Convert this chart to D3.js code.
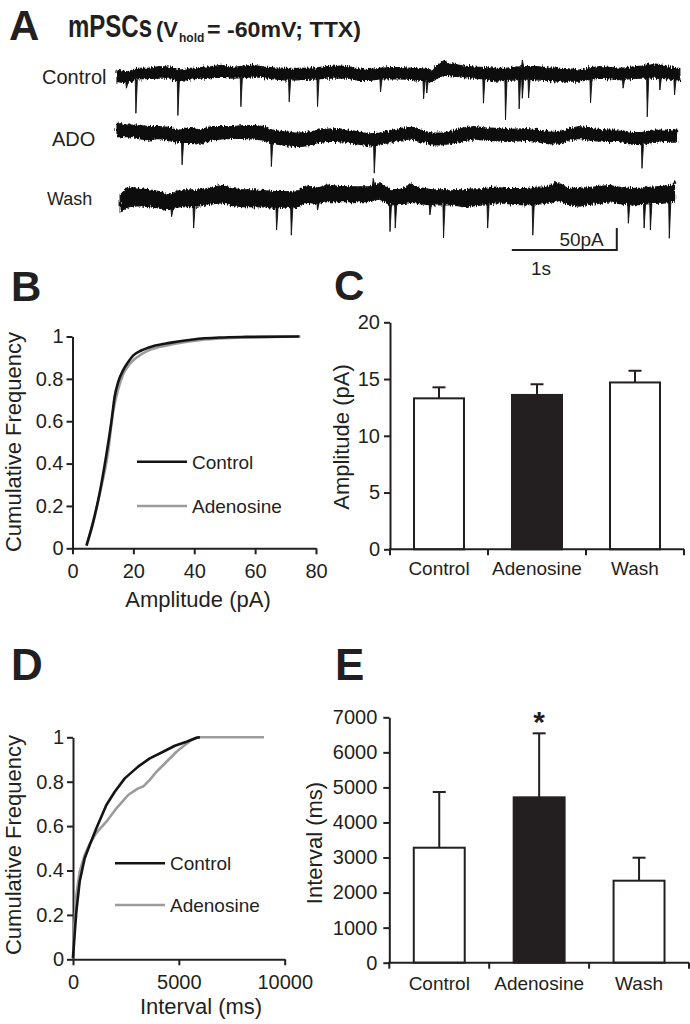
<!DOCTYPE html>
<html><head><meta charset="utf-8">
<script src="https://cdn.jsdelivr.net/npm/d3@7"></script>
<style>
body{margin:0;background:#fff}
svg{display:block}
text{font-family:"Liberation Sans",Arial,Helvetica,sans-serif;fill:#231f20}
</style>
</head><body>
<svg id="chart" width="690" height="1024">
<defs>
<filter id="rough" x="-2%" y="-60%" width="104%" height="220%">
<feTurbulence type="fractalNoise" baseFrequency="0.95 0.15" numOctaves="2" seed="7" result="n"/>
<feDisplacementMap in="SourceGraphic" in2="n" scale="6" xChannelSelector="R" yChannelSelector="G"/>
</filter>
</defs>
</svg>
<script>
// ===================== DATA =====================
// Panel A : mPSC traces (time in s, current in pA)
const traceNames = ["Control", "ADO", "Wash"];
const sampleTimes = [0,0.1,0.2,0.3,0.4,0.5,0.6,0.7,0.8,0.9,1.0,1.1,1.2,1.3,1.4,1.5,1.6,1.7,1.8,1.9,
  2.0,2.1,2.2,2.3,2.4,2.5,2.6,2.7,2.8,2.9,3.0,3.1,3.2,3.3,3.4,3.5,3.6,3.7,3.8,3.9,
  4.0,4.1,4.2,4.3,4.4,4.5,4.6,4.7,4.8,4.9,5.0,5.1,5.2,5.3];
const traceStart = [0, 0, 0.03];
const traceEnd = [5.36, 5.33, 5.31];
// upper / lower edge of the noise band
const ctrlTop = [11,7,15,15,19,18,11,15,17,19, 22,17,20,22,18,16,15,15,15,16, 19,20,19,14,12,15,17,17,15,14,
  11,32,25,20,18,17,15,15,18,19, 19,16,15,14,11,16,19,17,15,18, 20,26,22,17, 15];
const ctrlBottom = [-15,-18,-9,-8,-7,-7,-15,-9,-7,-6, -5,-7,-6,-4,-6,-9,-11,-11,-10,-9, -7,-7,-7,-12,-12,-9,-9,-9,-10,-12,
  -15,0,-2,-6,-7,-9,-14,-12,-11,-9, -11,-12,-14,-14,-14,-10,-7,-9,-11,-8, -7,-7,-8,-10, -11];
const adoTop = [24,20,20,17,17,15,9,13,9,17, 17,17,19,19,17,8,5,2,3,8, 11,12,9,5,0,2,7,13,15,8,
  2,2,7,14,17,14,13,10,11,12, 10,5,3,12,17,13,10,9,9,3, 3,9,9,9, 9];
const adoBottom = [-6,-6,-10,-14,-10,-15,-19,-19,-21,-14, -11,-10,-10,-11,-14,-22,-26,-29,-27,-20,
  -17,-17,-19,-23,-27,-25,-19,-14,-11,-18, -25,-25,-20,-15,-11,-14,-15,-17,-16,-14,
  -17,-22,-23,-14,-10,-14,-16,-17,-17,-23, -24,-19,-17,-16, -16];
const washTop = [2,19,18,14,10,3,14,14,14,19, 24,17,14,14,12,10,10,9,23,17, 25,22,21,21,21,30,14,15,25,18,
  14,14,14,14,16,17,20,17,17,17, 20,21,30,18,17,19,22,24,19,17, 18,20,22,25, 29];
const washBottom = [-36,-25,-22,-24,-27,-31,-24,-24,-22,-18, -15,-22,-24,-24,-25,-28,-25,-28,-14,-17,
  -13,-13,-13,-13,-13,-7,-20,-19,-14,-18, -20,-20,-20,-24,-22,-20,-15,-17,-19,-20,
  -18,-17,-9,-19,-23,-19,-16,-13,-18,-20, -19,-17,-16,-14, -11];
// miniature events: [time s, peak pA]
const ctrlEvents = [[0.09,-30],[0.18,-87],[0.58,-92],[1.18,-72],[1.64,-61],[1.91,-72],[2.51,-38],[2.92,-54],
  [2.95,-41],[3.49,-64],[3.70,-102],[3.83,-77],[3.86,-53],[3.86,34],[3.92,-52],[4.51,-63],[4.82,-30],
  [5.05,-95],[5.17,-34],[5.31,-45]];
const adoEvents = [[0.62,-70],[1.47,-74],[2.45,-89],[5.00,-78]];
const washEvents = [[0.52,-47],[0.73,-73],[1.52,-77],[1.66,-89],[1.91,-32],[2.44,40],[2.60,-81],[2.65,-73],
  [2.98,-43],[3.11,-95],[3.53,-73],[3.96,-89],[4.17,34],[4.87,-62],[5.02,-73],[5.08,-77],[5.26,-96],[5.31,35]];
const scaleBarTime = 1;      // s
const scaleBarCurrent = 50;  // pA

// Panel B : cumulative amplitude distribution
const ampControlX = [4.6,6.8,9.0,11.1,12.8,13.9,15.0,16.6,18.3,19.9,22.6,26.4,31.9,39.6,48.3,57,74.5];
const ampControlY = [0.013,0.126,0.267,0.44,0.60,0.72,0.785,0.84,0.88,0.91,0.934,0.954,0.97,0.986,0.995,0.998,1.0];
const ampAdenoX = [4.6,6.8,9.0,11.7,13.3,15.0,16.6,18.8,21.0,24.3,28.6,35.2,41.7,50.5,61.4,74.9];
const ampAdenoY = [0.013,0.12,0.26,0.455,0.64,0.75,0.82,0.87,0.90,0.93,0.95,0.97,0.983,0.992,0.997,1.0];
const ampXTicks = [0,20,40,60,80];
const freqTicks = [0,0.2,0.4,0.6,0.8,1];

// Panel C : amplitude bars
const conditions = ["Control","Adenosine","Wash"];
const ampMean = [13.3,13.6,14.7];
const ampErr = [0.97,0.94,1.03];
const ampYTicks = [0,5,10,15,20];

// Panel D : cumulative interval distribution
const intControlX = [0,40,110,158,315,552,789,1104,1577,1972,2445,3076,3628,4259,4811,5363,5836,5994];
const intControlY = [0.005,0.06,0.155,0.215,0.35,0.455,0.515,0.59,0.695,0.755,0.815,0.868,0.905,0.935,0.962,0.98,0.998,1.0];
const intAdenoX = [0,63,158,315,552,789,1104,1577,2050,2603,3076,3312,3628,3943,4416,4890,5284,5599,5915,9022];
const intAdenoY = [0.005,0.155,0.29,0.395,0.47,0.52,0.57,0.62,0.68,0.74,0.77,0.778,0.808,0.845,0.89,0.935,0.965,0.988,1.0,1.0];
const intXTicks = [0,5000,10000];

// Panel E : interval bars
const intMean = [3280,4717,2339];
const intErr = [1589,1826,656];
const intYTicks = [0,1000,2000,3000,4000,5000,6000,7000];
const significant = [false,true,false];

// ===================== DRAWING =====================
const ink = "#231f20";
const grey = "#9b9b9b";
const svg = d3.select("#chart");

function styleAxis(g, fs){
  g.attr("font-family", null).attr("font-size", null);
  g.select(".domain").attr("stroke", ink).attr("stroke-width", 2);
  g.selectAll(".tick line").attr("stroke", ink).attr("stroke-width", 2);
  g.selectAll(".tick text").attr("font-size", fs).style("fill", ink);
}

// ---------- Panel A ----------
svg.append("text").attr("x", 9).attr("y", 40).attr("font-size", 42).attr("font-weight", "bold").text("A");
svg.append("text").attr("transform", "translate(68,37) scale(1,1.28)").attr("font-size", 24).attr("font-weight", "bold").text("mPSCs");
svg.append("text").attr("x", 156).attr("y", 37).attr("font-size", 22).attr("font-weight", "bold").text("(V");
svg.append("text").attr("x", 179).attr("y", 42).attr("font-size", 12).attr("font-weight", "bold").text("hold");
svg.append("text").attr("x", 207).attr("y", 37).attr("font-size", 22).attr("font-weight", "bold")
  .attr("textLength", 154).attr("lengthAdjust", "spacingAndGlyphs").text("= -60mV; TTX)");

const tx = d3.scaleLinear().domain([0, 1]).range([117, 222]);
const traceBase = [75, 134, 196];
const traceTops = [ctrlTop, adoTop, washTop];
const traceBottoms = [ctrlBottom, adoBottom, washBottom];
const traceEvents = [ctrlEvents, adoEvents, washEvents];
const labelPos = [[42, 84, 20], [52, 146, 20], [47, 205, 18]];

traceNames.forEach((name, i) => {
  const ty = d3.scaleLinear().domain([0, 50]).range([traceBase[i], traceBase[i] - 22]);
  const times = [traceStart[i], ...sampleTimes.slice(1), traceEnd[i]];
  const pts = times.map((t, j) => ({t, top: traceTops[i][j], bot: traceBottoms[i][j]}));
  const g = svg.append("g");
  g.append("path").datum(pts)
    .attr("d", d3.area().x(d => tx(d.t)).y0(d => ty(d.bot)).y1(d => ty(d.top)))
    .attr("fill", "#111").attr("stroke", "#111").attr("stroke-width", 1.2)
    .attr("filter", "url(#rough)");
  const botAt = d3.scaleLinear().domain(times).range(traceBottoms[i]);
  const topAt = d3.scaleLinear().domain(times).range(traceTops[i]);
  g.selectAll("path.ev").data(traceEvents[i]).join("path").attr("class", "ev")
    .attr("d", d => {
      const b = d[1] < 0 ? botAt(d[0]) : topAt(d[0]);
      return `M${tx(d[0] - 0.006)},${ty(b)}L${tx(d[0])},${ty(d[1])}L${tx(d[0] + 0.014)},${ty(b)}Z`;
    })
    .attr("fill", "#111").attr("stroke", "#111").attr("stroke-width", 0.9).attr("stroke-linejoin", "round");
  svg.append("text").attr("x", labelPos[i][0]).attr("y", labelPos[i][1]).attr("font-size", labelPos[i][2]).text(name);
});

// scale bar
const sbT0 = 3.76;
const sbY = d3.scaleLinear().domain([0, 50]).range([250, 228]);
svg.append("path")
  .attr("d", `M${tx(sbT0)},${sbY(0)}H${tx(sbT0 + scaleBarTime)}V${sbY(scaleBarCurrent)}`)
  .attr("fill", "none").attr("stroke", ink).attr("stroke-width", 2);
svg.append("text").attr("x", tx(sbT0 + scaleBarTime) - 13).attr("y", 246).attr("text-anchor", "end").attr("font-size", 19).text(scaleBarCurrent + "pA");
svg.append("text").attr("x", 541).attr("y", 275).attr("text-anchor", "middle").attr("font-size", 19).text(scaleBarTime + "s");

// ---------- CDF panels ----------
function cdfPanel(opt){
  const g = svg.append("g");
  const x = d3.scaleLinear().domain(opt.xDomain).range(opt.xRange);
  const y = d3.scaleLinear().domain([0, 1]).range(opt.yRange);
  g.append("g").attr("transform", `translate(0,${opt.yRange[0]})`)
    .call(d3.axisBottom(x).tickValues(opt.xTicks).tickFormat(d3.format("d")).tickSize(6).tickSizeOuter(0).tickPadding(10))
    .call(a => styleAxis(a, 20));
  g.append("g").attr("transform", `translate(${opt.xRange[0]},0)`)
    .call(d3.axisLeft(y).tickValues(freqTicks).tickFormat(d => d === 0 || d === 1 ? String(d) : d.toFixed(1)).tickSize(6).tickSizeOuter(0).tickPadding(3))
    .call(a => styleAxis(a, 20));
  const line = d3.line().x(d => x(d[0])).y(d => y(d[1])).curve(opt.curve);
  const series = [
    {xs: opt.adoX, ys: opt.adoY, c: grey, name: "Adenosine"},
    {xs: opt.ctrlX, ys: opt.ctrlY, c: "#141414", name: "Control"}
  ];
  series.forEach(s => {
    g.append("path").datum(s.xs.map((v, k) => [v, s.ys[k]]))
      .attr("d", line).attr("fill", "none").attr("stroke", s.c).attr("stroke-width", 2.6).attr("stroke-linejoin", "round");
  });
  [["Control", "#141414", opt.legY[0]], ["Adenosine", grey, opt.legY[1]]].forEach(l => {
    g.append("line").attr("x1", opt.legX).attr("x2", opt.legX + 50).attr("y1", l[2]).attr("y2", l[2]).attr("stroke", l[1]).attr("stroke-width", 2.6);
    g.append("text").attr("x", opt.legX + 55).attr("y", l[2] + 7).attr("font-size", 19).text(l[0]);
  });
  g.append("text").attr("transform", `translate(21,${opt.yLabelY}) rotate(-90)`).attr("text-anchor", "middle").attr("font-size", 22).text("Cumulative Frequency");
  g.append("text").attr("x", opt.xLabelX).attr("y", opt.xLabelY).attr("text-anchor", "middle").attr("font-size", 22).text(opt.xLabel);
}

svg.append("text").attr("x", 11).attr("y", 301).attr("font-size", 42).attr("font-weight", "bold").text("B");
cdfPanel({xDomain: [0, 80], xRange: [72.5, 316], yRange: [548.3, 336.5], xTicks: ampXTicks,
  ctrlX: ampControlX, ctrlY: ampControlY, adoX: ampAdenoX, adoY: ampAdenoY, curve: d3.curveMonotoneX,
  legX: 137, legY: [461.7, 506], yLabelY: 442, xLabel: "Amplitude (pA)", xLabelX: 198, xLabelY: 607});

svg.append("text").attr("x", 11).attr("y", 680).attr("font-size", 44).attr("font-weight", "bold").text("D");
cdfPanel({xDomain: [0, 10000], xRange: [73, 284.7], yRange: [959.3, 737.3], xTicks: intXTicks,
  ctrlX: intControlX, ctrlY: intControlY, adoX: intAdenoX, adoY: intAdenoY, curve: d3.curveLinear,
  legX: 115, legY: [863.3, 905], yLabelY: 845, xLabel: "Interval (ms)", xLabelX: 201, xLabelY: 1014});

// ---------- Bar panels ----------
function barPanel(opt){
  const g = svg.append("g");
  const x = d3.scaleBand().domain(conditions).range(opt.xRange).padding(0);
  const y = d3.scaleLinear().domain(opt.yDomain).range(opt.yRange);
  const bw = x.bandwidth() * 0.51;
  conditions.forEach((c, i) => {
    const cx = x(c) + x.bandwidth() / 2;
    g.append("line").attr("x1", cx).attr("x2", cx).attr("y1", y(opt.mean[i])).attr("y2", y(opt.mean[i] + opt.err[i]))
      .attr("stroke", ink).attr("stroke-width", 2);
    g.append("line").attr("x1", cx - 6.5).attr("x2", cx + 6.5).attr("y1", y(opt.mean[i] + opt.err[i])).attr("y2", y(opt.mean[i] + opt.err[i]))
      .attr("stroke", ink).attr("stroke-width", 2);
    g.append("rect").attr("x", cx - bw / 2).attr("y", y(opt.mean[i])).attr("width", bw).attr("height", y(0) - y(opt.mean[i]))
      .attr("fill", c === "Adenosine" ? ink : "#fff").attr("stroke", ink).attr("stroke-width", 2);
    if (opt.sig && opt.sig[i]) {
      g.append("text").attr("x", cx).attr("y", y(opt.mean[i] + opt.err[i]) - 1).attr("text-anchor", "middle")
        .attr("font-size", 30).attr("font-weight", "bold").text("*");
    }
  });
  g.append("g").attr("transform", `translate(${opt.xRange[0]},0)`)
    .call(d3.axisLeft(y).tickValues(opt.yTicks).tickFormat(d3.format("d")).tickSize(6).tickSizeOuter(0).tickPadding(opt.yPad))
    .call(a => styleAxis(a, 20));
  const edges = [...conditions.map(c => x(c)), opt.xRange[1]];
  g.append("line").attr("x1", opt.xRange[0] - 1).attr("x2", opt.xRange[1]).attr("y1", y(0)).attr("y2", y(0)).attr("stroke", ink).attr("stroke-width", 2);
  g.selectAll("line.et").data(edges).join("line").attr("class", "et")
    .attr("x1", d => d).attr("x2", d => d).attr("y1", y(0)).attr("y2", y(0) + 6).attr("stroke", ink).attr("stroke-width", 2);
  g.selectAll("text.cat").data(conditions).join("text").attr("class", "cat")
    .attr("x", d => x(d) + x.bandwidth() / 2).attr("y", y(0) + opt.catDy).attr("text-anchor", "middle").attr("font-size", 19).text(d => d);
  g.append("text").attr("transform", `translate(${opt.yLabelX},${opt.yLabelY}) rotate(-90)`).attr("text-anchor", "middle").attr("font-size", 22).text(opt.yLabel);
}

svg.append("text").attr("x", 334).attr("y", 300).attr("font-size", 42).attr("font-weight", "bold").text("C");
barPanel({xRange: [390, 684], yDomain: [0, 20], yRange: [549.3, 322.3], yTicks: ampYTicks, yPad: 4,
  mean: ampMean, err: ampErr, catDy: 26, yLabel: "Amplitude (pA)", yLabelX: 349, yLabelY: 437});

svg.append("text").attr("x", 335).attr("y", 680).attr("font-size", 44).attr("font-weight", "bold").text("E");
barPanel({xRange: [389.3, 689], yDomain: [0, 7000], yRange: [962.7, 717.3], yTicks: intYTicks, yPad: 6,
  mean: intMean, err: intErr, sig: significant, catDy: 27, yLabel: "Interval (ms)", yLabelX: 322, yLabelY: 843});
</script>
</body></html>
